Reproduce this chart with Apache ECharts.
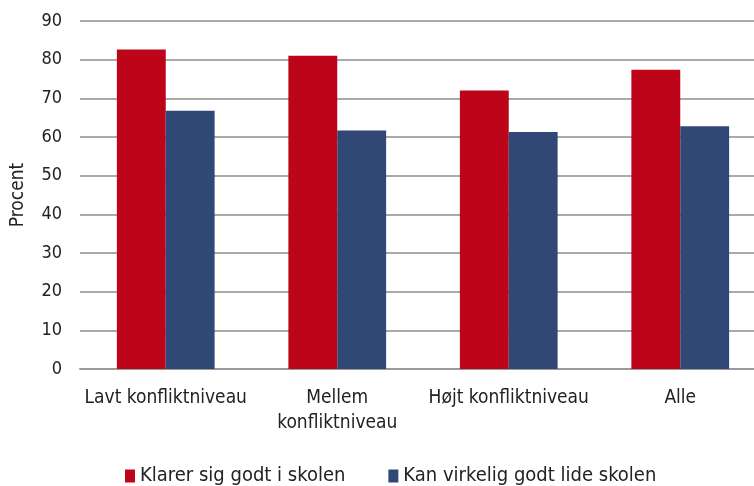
<!DOCTYPE html>
<html>
<head>
<meta charset="utf-8">
<script src="https://cdn.jsdelivr.net/npm/echarts@6/dist/echarts.min.js"></script>
<style>
  html, body { margin: 0; padding: 0; background: #fff; }
  #chart { width: 754px; height: 486px; }
</style>
</head>
<body>
<div id="chart"></div>
<script>
// kategorier og værdier
var categories = ['Lavt konfliktniveau', 'Mellem\nkonfliktniveau', 'Højt konfliktniveau', 'Alle'];
var klarerSig = [82.6, 81.0, 72.0, 77.4];
var kanLide = [66.8, 61.7, 61.3, 62.8];
var seriesNames = ['Klarer sig godt i skolen', 'Kan virkelig godt lide skolen'];

var font = '"DejaVu Sans Condensed", "Liberation Sans Narrow", sans-serif';

var chart = echarts.init(document.getElementById('chart'));
chart.setOption({
    animation: false,
    textStyle: { fontFamily: font, color: '#222' },
    // plotområdet fortsætter lidt ud over højre kant, ligesom i originalen
    grid: { left: 80, width: 686, top: 21, bottom: 117, outerBoundsMode: 'none' },
    legend: {
        top: 461,
        left: 120,
        itemWidth: 10,
        itemHeight: 13,
        itemGap: 43,
        icon: 'rect',
        textStyle: { fontFamily: font, fontSize: 20, color: '#222' },
        data: seriesNames
    },
    xAxis: {
        type: 'category',
        data: categories,
        axisLine: { lineStyle: { color: '#9a9a9a', width: 2 } },
        axisTick: { show: false },
        axisLabel: { interval: 0, fontFamily: font, fontSize: 19, color: '#222', margin: 17, lineHeight: 25 }
    },
    yAxis: {
        type: 'value',
        min: 0,
        max: 90,
        interval: 10,
        name: 'Procent',
        nameLocation: 'middle',
        nameGap: 52,
        nameTextStyle: { fontFamily: font, fontSize: 19, color: '#222' },
        axisLine: { show: false },
        axisTick: { show: false },
        axisLabel: { fontFamily: font, fontSize: 18, color: '#222', margin: 18 },
        splitLine: { lineStyle: { color: '#8c8c8c', width: 1.5 } }
    },
    series: [
        {
            name: seriesNames[0],
            type: 'bar',
            data: klarerSig,
            barGap: '0%',
            barCategoryGap: '43%',
            itemStyle: { color: '#bc0518' }
        },
        {
            name: seriesNames[1],
            type: 'bar',
            data: kanLide,
            itemStyle: { color: '#314877' }
        }
    ]
});
</script>
</body>
</html>
